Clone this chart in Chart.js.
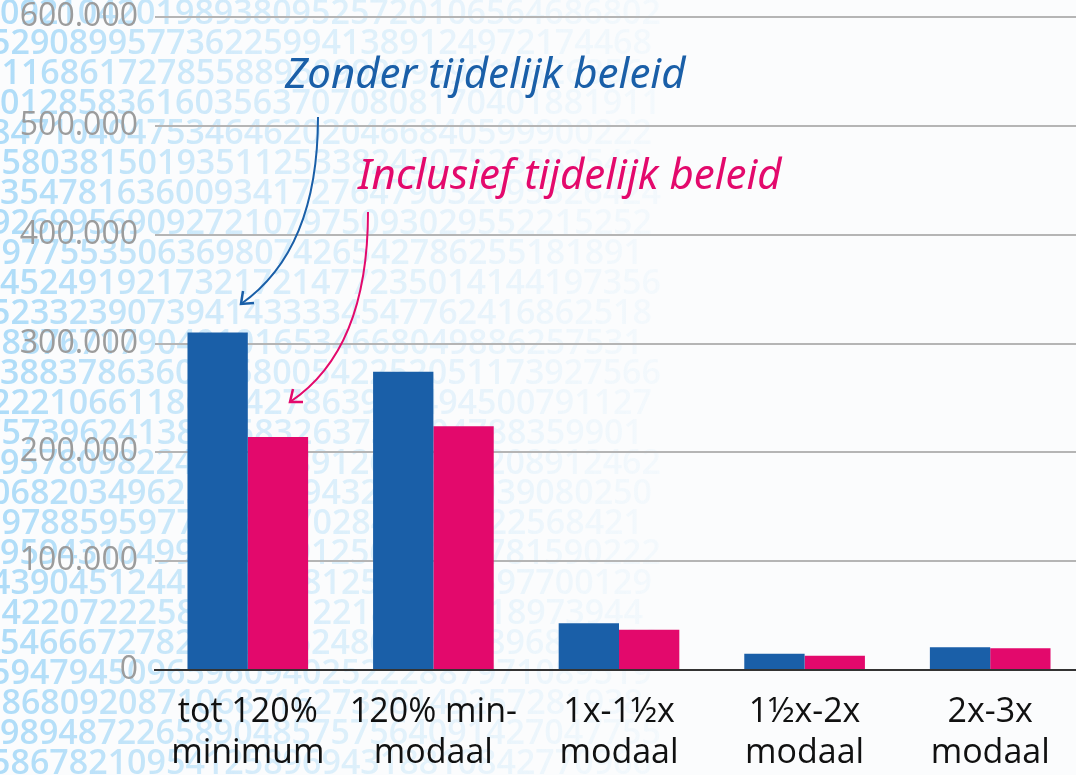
<!DOCTYPE html>
<html>
<head>
<meta charset="utf-8">
<script src="https://cdn.jsdelivr.net/npm/chart.js@4"></script>
<style>
  html, body { margin: 0; padding: 0; background: #fbfcfd; overflow: hidden; }
  #wrap { width: 1083px; height: 775px; position: relative; }
</style>
</head>
<body>
<div id="wrap"><canvas id="barChart"></canvas></div>
<script>
const categories = [
  ['tot 120%', 'minimum'],
  ['120% min-', 'modaal'],
  ['1x-1½x', 'modaal'],
  ['1½x-2x', 'modaal'],
  ['2x-3x', 'modaal']
];
const zonderBeleid = [310000, 274000, 43000, 15000, 21000];
const inclusiefBeleid = [214000, 224000, 37000, 13000, 20000];
const yTicks = [0, 100000, 200000, 300000, 400000, 500000, 600000];

// decorative digit rows in the background
const digitRows = [
  '0921042019893809525720106564686802',
  '5290899577362259941389124972174468',
  '3116861727855889609920929311626356',
  '0128583616035637070808170401881911',
  '8471040475346462020466840599900222',
  '0580381501935112533824307523582542',
  '3547816360093417276479032095326424',
  '9269956909272107975093029552215252',
  '7977553506369807426542786255181891',
  '4524919217321721477235014144197356',
  '5233239073941433334547762416862518',
  '5887671790401016534668049886257531',
  '3883786360095800542252051173927566',
  '2221066118674427863919494500791127',
  '7573962413836583263739904788359901',
  '9578098224891548912619947208912462',
  '0682034962591939943298081939080250',
  '5978859597789307702846898122568421',
  '9594310499290849125642190781590222',
  '4390451244180627812569143597700129',
  '3422072225853948122185096618973944',
  '5466672782162596248626866896891400',
  '5947945096596094025222887971089519',
  '2868092087106871627398149257281938',
  '9894872265890485757564091427047755',
  '5867821095412589694318810842770966'
];

const bgDigits = {
  id: 'bgDigits',
  beforeDraw(chart) {
    const ctx = chart.ctx;
    ctx.save();
    const g = ctx.createLinearGradient(0, 0, 820, 0);
    g.addColorStop(0, 'rgba(160,214,247,0.85)');
    g.addColorStop(0.3, 'rgba(160,214,247,0.42)');
    g.addColorStop(0.7, 'rgba(160,214,247,0.12)');
    g.addColorStop(1, 'rgba(160,214,247,0)');
    ctx.fillStyle = g;
    ctx.font = '600 34px "Open Sans"';
    ctx.textBaseline = 'alphabetic';
    digitRows.forEach((row, i) => {
      const y = 24 + i * 30;
      const off = (i % 3) * -9;
      ctx.fillText(row, off, y);
    });
    ctx.restore();
  }
};

const notes = {
  id: 'notes',
  afterDraw(chart) {
    const ctx = chart.ctx;
    ctx.save();
    ctx.font = 'italic 42px "Noto Sans"';
    ctx.textBaseline = 'middle';
    ctx.fillStyle = '#1a5fa8';
    ctx.fillText('Zonder tijdelijk beleid', 285, 76);
    ctx.fillStyle = '#e3096c';
    ctx.fillText('Inclusief tijdelijk beleid', 358, 177);

    function arrow(color, x0, y0, cx, cy, x1, y1, ax, ay) {
      ctx.strokeStyle = color;
      ctx.lineWidth = 2;
      ctx.beginPath();
      ctx.moveTo(x0, y0);
      ctx.quadraticCurveTo(cx, cy, x1, y1);
      ctx.stroke();
      ctx.lineWidth = 2.5;
      ctx.beginPath();
      ctx.moveTo(x1 + ax[0], y1 + ax[1]);
      ctx.lineTo(x1, y1);
      ctx.lineTo(x1 + ay[0], y1 + ay[1]);
      ctx.stroke();
    }
    arrow('#1a5fa8', 318, 117, 318, 250, 241, 304, [2, -13], [13, -1]);
    arrow('#e3096c', 368, 212, 368, 350, 290, 402, [3, -13], [13, 0]);
    ctx.restore();
  }
};

new Chart(document.getElementById('barChart'), {
  type: 'bar',
  data: {
    labels: categories,
    datasets: [
      { label: 'Zonder tijdelijk beleid', data: zonderBeleid, backgroundColor: '#1a5fa8' },
      { label: 'Inclusief tijdelijk beleid', data: inclusiefBeleid, backgroundColor: '#e3096c' }
    ]
  },
  options: {
    responsive: true,
    maintainAspectRatio: false,
    animation: false,
    layout: { padding: { top: 17, left: 0, right: 0, bottom: 0 } },
    plugins: { legend: { display: false }, tooltip: { enabled: false } },
    datasets: { bar: { barPercentage: 1, categoryPercentage: 0.65 } },
    scales: {
      x: {
        grid: { display: false, drawTicks: false },
        border: { color: '#333333', width: 2 },
        ticks: { color: '#111111', font: { family: 'Open Sans', size: 34 }, padding: 22, maxRotation: 0 },
        afterFit(s) { s.height = 105; s.paddingLeft = 0; s.paddingRight = 0; }
      },
      y: {
        min: 0, max: 600000,
        afterBuildTicks(s) { s.ticks = yTicks.map(v => ({ value: v })); },
        grid: { color: '#b5b5b5', lineWidth: 2, drawTicks: false },
        border: { display: false },
        ticks: {
          color: '#9c9c9c',
          font: { family: 'Open Sans', size: 32 },
          padding: 17,
          callback: v => v === 0 ? '0' : v.toLocaleString('nl-NL')
        },
        afterFit(s) { s.width = 155; s.paddingTop = 0; s.paddingBottom = 0; }
      }
    }
  },
  plugins: [bgDigits, notes]
});
</script>
</body>
</html>
